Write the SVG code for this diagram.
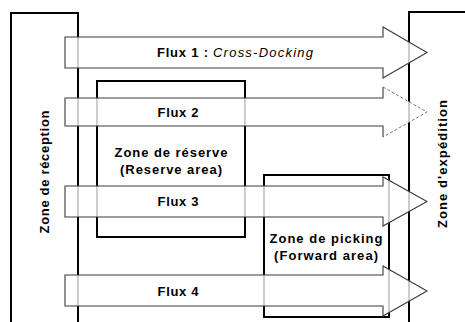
<svg xmlns="http://www.w3.org/2000/svg" width="465" height="322" viewBox="0 0 465 322">
<style>
.zone{fill:none;stroke:#000;stroke-width:2}
.arrow{fill:#fff;fill-opacity:0.8;stroke:#3a3a3a;stroke-width:1.1}
.lbl{font-family:"Liberation Sans",Arial,sans-serif;font-size:13px;font-weight:bold;fill:#000}
.it{font-weight:normal;font-style:italic}
</style>
<rect width="465" height="322" fill="#fff"/>
<g id="zone-reception">
<path class="zone" d="M11,324 V13 H78 V324"/>
<text class="lbl" transform="translate(49,172) rotate(-90)" text-anchor="middle" textLength="123" lengthAdjust="spacing">Zone de réception</text>
</g>
<g id="zone-expedition">
<path class="zone" d="M409,324 V12 H467"/>
<text class="lbl" transform="translate(447,164) rotate(-90)" text-anchor="middle" textLength="128" lengthAdjust="spacing">Zone d'expédition</text>
</g>
<g id="zone-reserve">
<rect class="zone" x="97" y="81" width="148" height="156"/>
<text class="lbl" x="171" y="157" text-anchor="middle" textLength="113" lengthAdjust="spacing">Zone de réserve</text>
<text class="lbl" x="171" y="174" text-anchor="middle" textLength="102" lengthAdjust="spacing">(Reserve area)</text>
</g>
<g id="zone-picking">
<rect class="zone" x="264" y="175" width="125" height="142"/>
<text class="lbl" x="326" y="243" text-anchor="middle" textLength="113" lengthAdjust="spacing">Zone de picking</text>
<text class="lbl" x="326" y="260" text-anchor="middle" textLength="104" lengthAdjust="spacing">(Forward area)</text>
</g>
<g id="connectors">
<g id="flux1">
<polygon class="arrow" points="65,37 383,37 383,27 427,52.5 383,78 383,68 65,68"/>
<text class="lbl" x="157" y="57" textLength="51" lengthAdjust="spacing">Flux 1 :</text>
<text class="lbl it" x="213" y="57" textLength="100" lengthAdjust="spacing">Cross-Docking</text>
</g>
<g id="flux2">
<polygon points="65,98 383,98 383,87 427,112 383,137 383,126 65,126" fill="#fff" fill-opacity="0.8" stroke="none"/>
<path d="M383,87 V98 H65 V126 H383 V137" fill="none" stroke="#3a3a3a" stroke-width="1.1"/>
<path d="M383,87 L427,112 L383,137" fill="none" stroke="#777" stroke-width="1" stroke-dasharray="3,2"/>
<text class="lbl" x="178" y="117" text-anchor="middle" textLength="41" lengthAdjust="spacing">Flux 2</text>
</g>
<g id="flux3">
<polygon class="arrow" points="65,186 383,186 383,177 427,201.5 383,226 383,217 65,217"/>
<text class="lbl" x="178" y="206" text-anchor="middle" textLength="41" lengthAdjust="spacing">Flux 3</text>
</g>
<g id="flux4">
<polygon class="arrow" points="65,275 383,275 383,266 427,291 383,316 383,306 65,306"/>
<text class="lbl" x="178" y="296" text-anchor="middle" textLength="41" lengthAdjust="spacing">Flux 4</text>
</g>
</g>
</svg>
